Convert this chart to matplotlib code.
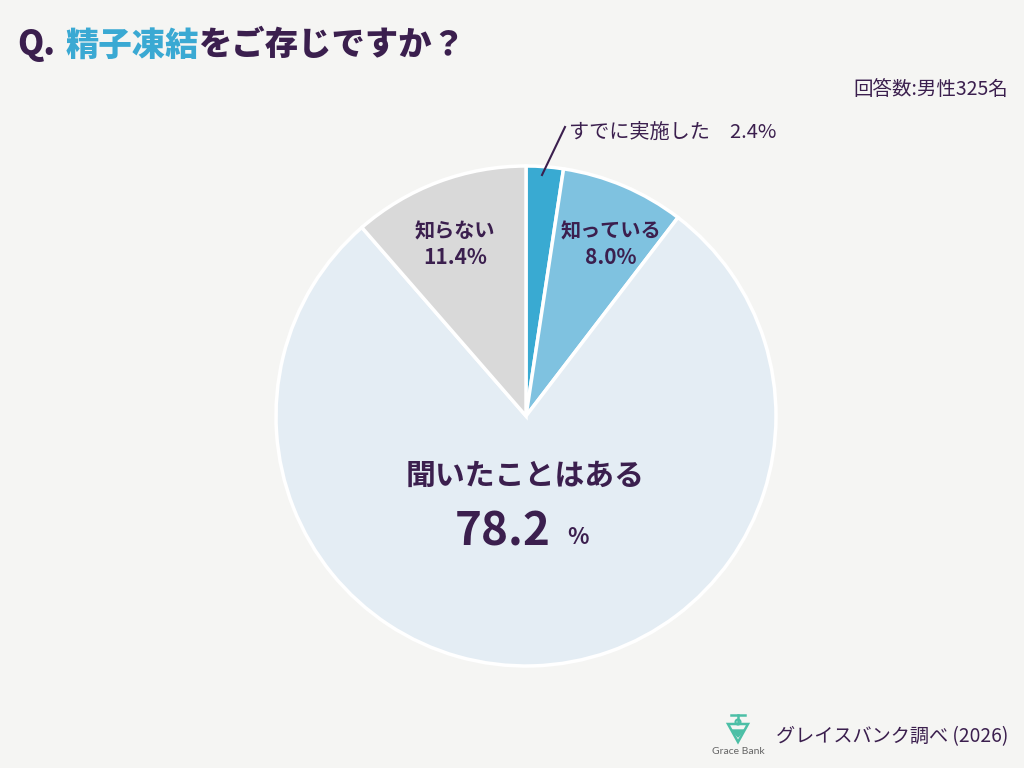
import matplotlib.pyplot as plt
from matplotlib.patches import Polygon, Circle

plt.rcParams['font.family'] = ['Noto Sans CJK JP', 'DejaVu Sans']

# data
labels = ['すでに実施した', '知っている', '聞いたことはある', '知らない']
values = [2.4, 8.0, 78.2, 11.4]
colors = ['#39aad2', '#7fc2e0', '#e4edf4', '#d9d9d9']

bg = '#f5f5f3'
ink = '#3b1f4e'
blue = '#3aa9d3'
teal = '#4cbfa6'

W, H = 1024, 768
fig = plt.figure(figsize=(W / 100, H / 100), dpi=100, facecolor=bg)

# pie axes: center (526, 416), radius 250 px
cx, cy, r = 526, 416, 250
ax = fig.add_axes([(cx - r) / W, (H - cy - r) / H, 2 * r / W, 2 * r / H])
ax.pie(values, colors=colors, startangle=90, counterclock=False,
       wedgeprops=dict(edgecolor='white', linewidth=2.5))
ax.set_xlim(-1, 1)
ax.set_ylim(-1, 1)
ax.set_aspect('equal')
ax.axis('off')


def px(x, y):
    return x / W, 1 - y / H


# title
fig.text(*px(17, 45), 'Q.', fontsize=24, fontweight='heavy', color=ink, va='center')
fig.text(*px(66, 45), '精子凍結', fontsize=24, fontweight='heavy', color=blue, va='center')
fig.text(*px(198, 45), 'をご存じですか？', fontsize=24, fontweight='heavy', color=ink, va='center')

fig.text(*px(1008, 90), '回答数:男性325名', fontsize=14, color=ink, ha='right', va='center')

# slice labels
fig.text(*px(455, 231), labels[3], fontsize=14.5, fontweight='bold', color=ink, ha='center', va='center')
fig.text(*px(455, 258), f'{values[3]:.1f}%', fontsize=15, fontweight='bold', color=ink, ha='center', va='center')
fig.text(*px(611, 231), labels[1], fontsize=14.5, fontweight='bold', color=ink, ha='center', va='center')
fig.text(*px(611, 258), f'{values[1]:.1f}%', fontsize=15, fontweight='bold', color=ink, ha='center', va='center')
fig.text(*px(525, 476), labels[2], fontsize=21.5, fontweight='bold', color=ink, ha='center', va='center')
fig.text(*px(551, 532), f'{values[2]:.1f}', fontsize=33, fontweight='bold', color=ink, ha='right', va='center')
fig.text(*px(567, 537), '%', fontsize=16, fontweight='bold', color=ink, ha='left', va='center')

fig.text(*px(569, 132), f'{labels[0]}\u3000{values[0]:.1f}%', fontsize=14.5, color=ink, ha='left', va='center')
fig.add_artist(plt.Line2D([565 / W, 542 / W], [1 - 127 / H, 1 - 175 / H],
                          color=ink, linewidth=1.5, transform=fig.transFigure))

# footer logo
lg = fig.add_axes([718 / W, 1 - 746 / H, 40 / W, 34 / H])
lg.set_xlim(0, 40)
lg.set_ylim(0, 34)
lg.axis('off')
lg.add_patch(Polygon([(10, 22), (30, 22), (20, 4)], closed=True, fill=False, edgecolor=teal, linewidth=1.8))
lg.add_patch(Polygon([(14, 16), (26, 16), (20, 9)], closed=True, fill=True, facecolor=teal, edgecolor=teal))
lg.plot([13, 27], [31, 31], color=teal, linewidth=1.8)
lg.plot([20, 20], [31, 24], color=teal, linewidth=1.8)
lg.add_patch(Circle((20, 24), 2.5, fill=False, edgecolor=teal, linewidth=1.5))
fig.text(*px(738, 752), 'Grace Bank', fontsize=7.5, color='#666666', ha='center', va='center', family='Lato')
fig.text(*px(1008, 737), 'グレイスバンク調べ (2026)', fontsize=13.8, color=ink, ha='right', va='center')

fig.savefig('out.png', dpi=100, facecolor=bg)
